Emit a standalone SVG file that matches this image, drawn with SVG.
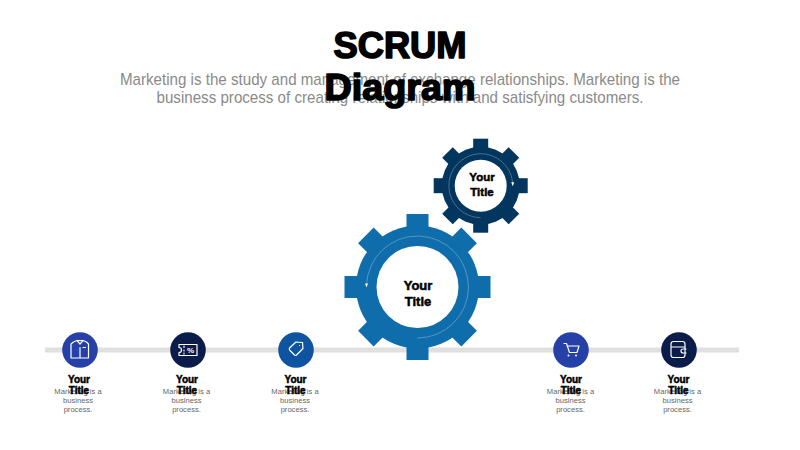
<svg xmlns="http://www.w3.org/2000/svg" width="800" height="450" viewBox="0 0 800 450">
<style>
text{font-family:"Liberation Sans",Arial,sans-serif;text-anchor:middle}
.h{font-weight:700;fill:#000;stroke:#000;stroke-linejoin:round}
.t{font-size:36px;stroke-width:1.6px}
.sub{font-size:16.4px;fill:#8a8a8a}
.gt{font-size:13px;stroke-width:.5px}
.gs{font-size:11.500px;stroke-width:.5px}
.st{font-size:10px;stroke-width:.5px}
.d{font-size:7.600px;fill:#666}
.ic{fill:none;stroke:#fff;stroke-width:1.200;stroke-linejoin:round;stroke-linecap:round}
.arc{fill:none;stroke:#fff;stroke-opacity:.4;stroke-width:.7}
.bg{fill:#0f6dab}.dg{fill:#03365f}
</style>
<defs>
<g id="bt"><rect x="-11" y="-73" width="22" height="146"/><rect x="-73" y="-11" width="146" height="22"/><rect x="-11" y="-73" width="22" height="146" transform="rotate(45)"/><rect x="-73" y="-11" width="146" height="22" transform="rotate(45)"/></g>
<g id="st"><rect x="-7.5" y="-47" width="15" height="94"/><rect x="-47" y="-7.5" width="94" height="15"/><rect x="-7.5" y="-47" width="15" height="94" transform="rotate(45)"/><rect x="-47" y="-7.5" width="94" height="15" transform="rotate(45)"/></g>
</defs>
<g id="timeline"><rect x="45" y="347.500" width="694" height="5" fill="#e0e0e0"/></g>
<g id="heading">
<text class="h t" x="400" y="58" textLength="133" lengthAdjust="spacingAndGlyphs">SCRUM</text>
<text class="sub" x="400" y="85" textLength="560" lengthAdjust="spacingAndGlyphs">Marketing is the study and management of exchange relationships. Marketing is the</text>
<text class="sub" x="400" y="103" textLength="487" lengthAdjust="spacingAndGlyphs">business process of creating relationships with and satisfying customers.</text>
<text class="h t" x="400" y="100" textLength="151" lengthAdjust="spacingAndGlyphs">Diagram</text>
</g>
<g id="gear-large" transform="translate(417.500 287)">
<use href="#bt" class="bg"/><circle r="61.500" class="bg"/><circle r="41" fill="#fff"/>
<path class="arc" d="M0 51A51 51 0 1 0 -51 -2"/>
<path d="M-52.500 -3.500h3l-1.500 4z" fill="#fff"/>
<text class="h gt" x="0.500" y="3">Your</text><text class="h gt" x="0.500" y="19">Title</text>
</g>
<g id="gear-small" transform="translate(480.700 185.700)">
<use href="#st" class="dg"/><circle r="39" class="dg"/><circle r="26" fill="#fff"/>
<path class="arc" d="M0 32A32 32 0 1 1 32 -3"/>
<path d="M30.500 -3.500h3l-1.500 4z" fill="#fff"/>
<text class="h gs" x="1.300" y="-4.500">Your</text><text class="h gs" x="1.300" y="10">Title</text>
</g>
<g id="step-1">
<circle cx="80" cy="350" r="17.800" fill="#2541a8"/>
<path class="ic" d="M73.500 342l3.500-1.500h6l3.500 1.500 2 2v14h-17.500v-14zM80 347.500v10.500M77 340.500l3 3.500 3-3.500M83 347.500h2.500"/>
<text class="h st" x="79" y="382.500">Your</text>
<text class="d" x="78" y="393.500">Marketing is a</text><text class="d" x="78" y="402.500">business</text><text class="d" x="78" y="411.500">process.</text>
<text class="h st" x="79" y="394">Title</text>
</g>
<g id="step-2">
<circle cx="188" cy="350" r="17.800" fill="#0b1b4a"/>
<path class="ic" d="M179 344.500h18v11h-18v-3a2.500 2.500 0 0 0 0-5zM184 346v1.500M184 350v1M184 353v1"/>
<text x="190.500" y="353" style="font-size:8px;font-weight:700;fill:#fff">%</text>
<text class="h st" x="187" y="382.500">Your</text>
<text class="d" x="186.500" y="393.500">Marketing is a</text><text class="d" x="186.500" y="402.500">business</text><text class="d" x="186.500" y="411.500">process.</text>
<text class="h st" x="187" y="394">Title</text>
</g>
<g id="step-3">
<circle cx="296" cy="350" r="17.800" fill="#0f54a0"/>
<path class="ic" d="M290 347.500l6-5.500 6.500 0.500 0.500 6-6.500 6.500a1.500 1.500 0 0 1-2 0l-4.500-4.500a2 2 0 0 1 0-3zM299.500 345.500v0"/>
<text class="h st" x="295.500" y="382.500">Your</text>
<text class="d" x="295" y="393.500">Marketing is a</text><text class="d" x="295" y="402.500">business</text><text class="d" x="295" y="411.500">process.</text>
<text class="h st" x="295.500" y="394">Title</text>
</g>
<g id="step-4">
<circle cx="571" cy="350" r="17.800" fill="#2541a8"/>
<path class="ic" d="M564 343.500h2.500l3 9h7.500l2-6.500h-12"/><circle cx="568.500" cy="355.500" r="1" fill="#fff"/><circle cx="576" cy="355.500" r="1" fill="#fff"/>
<text class="h st" x="571" y="382.500">Your</text>
<text class="d" x="570.500" y="393.500">Marketing is a</text><text class="d" x="570.500" y="402.500">business</text><text class="d" x="570.500" y="411.500">process.</text>
<text class="h st" x="571" y="394">Title</text>
</g>
<g id="step-5">
<circle cx="679" cy="350" r="17.800" fill="#0b1b4a"/>
<path class="ic" d="M671 347v-3a2.500 2.500 0 0 1 2.500-2.500h9a2.500 2.500 0 0 1 2.500 2.500v3h-14v8a2.500 2.500 0 0 0 2.500 2.500h9a2.500 2.500 0 0 0 2.500-2.500v-8M686 349h-3a2 2 0 0 0 0 4h3"/>
<text class="h st" x="678.500" y="382.500">Your</text>
<text class="d" x="677.500" y="393.500">Marketing is a</text><text class="d" x="677.500" y="402.500">business</text><text class="d" x="677.500" y="411.500">process.</text>
<text class="h st" x="678.500" y="394">Title</text>
</g>
</svg>
